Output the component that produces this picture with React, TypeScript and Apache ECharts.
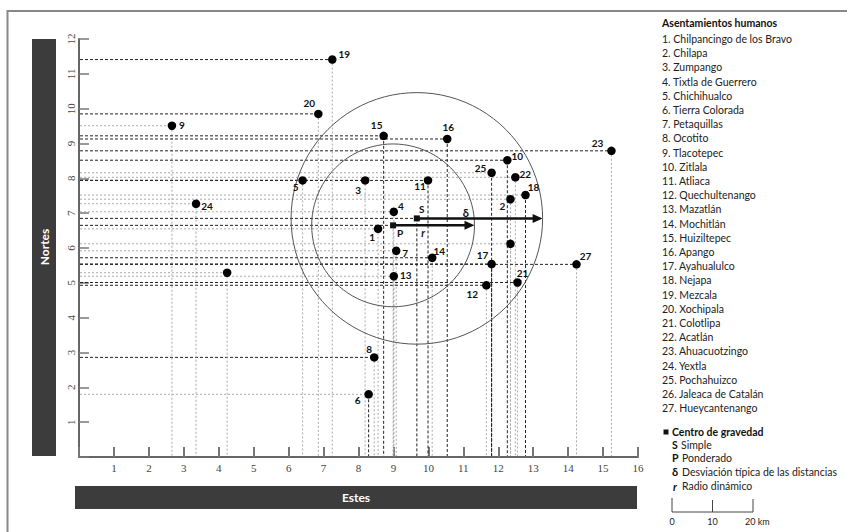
import React, { useEffect, useRef } from "react";
import * as echarts from "echarts";

const settlementNames = [
  "Chilpancingo de los Bravo", "Chilapa", "Zumpango", "Tixtla de Guerrero", "Chichihualco",
  "Tierra Colorada", "Petaquillas", "Ocotito", "Tlacotepec", "Zitlala", "Atliaca",
  "Quechultenango", "Mazatlán", "Mochitlán", "Huiziltepec", "Apango", "Ayahualulco",
  "Nejapa", "Mezcala", "Xochipala", "Colotlipa", "Acatlán", "Ahuacuotzingo", "Yextla",
  "Pochahuizco", "Jaleaca de Catalán", "Hueycantenango",
];

// point ids drawn next to each dot ("" = unlabeled dot)
const pointLabels = [
  "1", "2", "3", "4", "5", "6", "7", "8", "9", "10", "11", "12", "13", "14",
  "15", "16", "17", "18", "19", "20", "21", "22", "23", "24", "25", "", "27", "",
];
const eastings = [
  8.56, 12.35, 8.19, 9.01, 6.40, 8.29, 9.08, 8.45, 2.66, 12.26, 9.99, 11.66, 9.01, 10.11,
  8.72, 10.54, 11.81, 12.78, 7.25, 6.85, 12.55, 12.49, 15.24, 3.35, 11.81, 12.35, 14.24, 4.24,
];
const northings = [
  6.55, 7.40, 7.94, 7.04, 7.94, 1.80, 5.92, 2.86, 9.51, 8.52, 7.94, 4.93, 5.19, 5.72,
  9.22, 9.13, 5.54, 7.52, 11.41, 9.85, 5.01, 8.03, 8.79, 7.27, 8.16, 6.12, 5.53, 5.29,
];

const centroidSimple = [9.67, 6.85];
const centroidWeighted = [8.99, 6.65];
const stdDevDistance = 3.6;
const dynamicRadius = 2.33;

const xTickLabels = [1, 2, 3, 4, 5, 6, 7, 8, 9, 10, 11, 12, 13, 14, 15, 16];
const yTickLabels = [1, 2, 3, 4, 5, 6, 7, 8, 9, 10, 11, 12];

// presentation: guide line darkness (horizontal, vertical) per point
const guideHDark = [
  false, false, true, false, true, false, false, true, false, true, true, true, false, true,
  true, true, true, false, true, true, true, false, true, false, false, false, true, false,
];
const guideVDark = [
  false, false, false, false, false, true, false, false, false, true, true, false, false, false,
  true, true, true, true, false, false, false, false, false, false, true, false, false, false,
];
// presentation: label offsets in pixels
const labelOffsets = [
  [-6, 8], [-8, 7], [-7, 10], [7, -6], [-7, 7], [-11, 6], [9, 2], [-5, -8], [10, -1], [10, -4],
  [-8, 6], [-14, 9], [12, -1], [7, -7], [-7, -11], [1, -12], [-9, -9], [8, -8], [12, -6], [-9, -11],
  [5, -9], [10, -3], [-14, -8], [11, 2], [-11, -5], [0, 0], [9, -8], [0, 0],
];

const FONT = "Lato, 'Open Sans', sans-serif";
const SERIF = "'Liberation Serif', 'DejaVu Serif', serif";

export default function App() {
  const ref = useRef<HTMLDivElement>(null);
  useEffect(() => {
    if (!ref.current) return;
    const chart = echarts.init(ref.current, undefined, { renderer: "svg" });

    const points = eastings.map((x, i) => ({
      value: [x, northings[i]],
      label: {
        show: pointLabels[i] !== "",
        formatter: pointLabels[i],
        position: "inside",
        offset: labelOffsets[i],
        color: "#111",
        textBorderWidth: 0,
      },
    }));

    const guides = eastings.map((x, i) => [x, northings[i], guideHDark[i] ? 1 : 0, guideVDark[i] ? 1 : 0]);
    guides.push([centroidSimple[0], centroidSimple[1], 1, 1]);
    guides.push([centroidWeighted[0], centroidWeighted[1], 1, 0]);

    const darkStyle = { stroke: "#222", lineWidth: 1, lineDash: [3, 2] };
    const lightStyle = { stroke: "#aaa", lineWidth: 1, lineDash: [2, 2] };

    const legendGraphics: any[] = [
      { type: "polyline", shape: { points: [[7.5, 532], [7.5, 11], [847, 11]] }, style: { stroke: "#888", lineWidth: 2, fill: "none" } },
      { type: "rect", shape: { x: 32, y: 39, width: 24, height: 417 }, style: { fill: "#3c3c3c" } },
      { type: "text", x: 44, y: 247, rotation: Math.PI / 2, style: { text: "Nortes", fill: "#fff", font: `bold 12px ${FONT}`, align: "center", verticalAlign: "middle" } },
      { type: "rect", shape: { x: 75, y: 486, width: 562, height: 23 }, style: { fill: "#3c3c3c" } },
      { type: "text", x: 356, y: 497.5, style: { text: "Estes", fill: "#fff", font: `bold 12px ${FONT}`, align: "center", verticalAlign: "middle" } },
      { type: "text", x: 662, y: 23, style: { text: "Asentamientos humanos", fill: "#111", font: `bold 10.5px ${FONT}`, verticalAlign: "middle" } },
    ];
    settlementNames.forEach((n, i) => {
      legendGraphics.push({ type: "text", x: 662, y: 39 + i * 14.2, style: { text: `${i + 1}. ${n}`, fill: "#222", font: `10.5px ${FONT}`, verticalAlign: "middle" } });
    });
    legendGraphics.push(
      { type: "rect", shape: { x: 663.5, y: 429.5, width: 5, height: 5 }, style: { fill: "#111" } },
      { type: "text", x: 672, y: 431.7, style: { text: "Centro de gravedad", fill: "#111", font: `bold 10.5px ${FONT}`, verticalAlign: "middle" } },
      { type: "text", x: 672, y: 444.5, style: { text: "S", fill: "#111", font: `bold 10.5px ${FONT}`, verticalAlign: "middle" } },
      { type: "text", x: 681, y: 444.5, style: { text: "Simple", fill: "#222", font: `10.5px ${FONT}`, verticalAlign: "middle" } },
      { type: "text", x: 672, y: 458, style: { text: "P", fill: "#111", font: `bold 10.5px ${FONT}`, verticalAlign: "middle" } },
      { type: "text", x: 682, y: 458, style: { text: "Ponderado", fill: "#222", font: `10.5px ${FONT}`, verticalAlign: "middle" } },
      { type: "text", x: 672, y: 471.5, style: { text: "δ", fill: "#111", font: `bold 11px ${FONT}`, verticalAlign: "middle" } },
      { type: "text", x: 682, y: 471.5, style: { text: "Desviación típica de las distancias", fill: "#222", font: `10.5px ${FONT}`, verticalAlign: "middle" } },
      { type: "text", x: 673, y: 486, style: { text: "r", fill: "#111", font: `italic bold 11px ${FONT}`, verticalAlign: "middle" } },
      { type: "text", x: 682, y: 486, style: { text: "Radio dinámico", fill: "#222", font: `10.5px ${FONT}`, verticalAlign: "middle" } },
      { type: "polyline", shape: { points: [[672, 498], [672, 512], [753, 512], [753, 499]] }, style: { stroke: "#444", lineWidth: 1, fill: "none" } },
      { type: "line", shape: { x1: 712.5, y1: 500, x2: 712.5, y2: 512 }, style: { stroke: "#444", lineWidth: 1 } },
      { type: "text", x: 672, y: 521, style: { text: "0", fill: "#222", font: `9px ${FONT}`, align: "center", verticalAlign: "middle" } },
      { type: "text", x: 712.5, y: 521, style: { text: "10", fill: "#222", font: `9px ${FONT}`, align: "center", verticalAlign: "middle" } },
      { type: "text", x: 745, y: 521, style: { text: "20 km", fill: "#222", font: `9px ${FONT}`, verticalAlign: "middle" } },
    );

    chart.setOption({
      animation: false,
      grid: { left: 79, top: 39, width: 559, height: 418, containLabel: false },
      xAxis: {
        type: "value", min: 0, max: 16, interval: 1,
        axisLine: { show: true, onZero: false, lineStyle: { color: "#666", width: 2 } },
        axisTick: { show: true, inside: true, length: 10, lineStyle: { color: "#777", width: 2 } },
        axisLabel: {
          formatter: (v: number) => (xTickLabels.includes(v) ? String(v) : ""),
          fontFamily: SERIF, fontSize: 11, color: "#444", margin: 5,
        },
        splitLine: { show: false },
      },
      yAxis: {
        type: "value", min: 0, max: 12, interval: 1,
        axisLine: { show: true, onZero: false, lineStyle: { color: "#666", width: 2 } },
        axisTick: { show: true, inside: true, length: 10, lineStyle: { color: "#777", width: 1.5 } },
        axisLabel: {
          formatter: (v: number) => (yTickLabels.includes(v) ? String(v) : ""),
          fontFamily: SERIF, fontSize: 11, color: "#444", margin: 3, rotate: 90,
        },
        splitLine: { show: false },
      },
      graphic: legendGraphics,
      series: [
        {
          type: "custom",
          z: 1,
          data: guides,
          renderItem: (params: any, api: any) => {
            const x = api.value(0), y = api.value(1);
            const p = api.coord([x, y]);
            const px = api.coord([x, 0]);
            const py = api.coord([0, y]);
            return {
              type: "group",
              children: [
                { type: "line", shape: { x1: py[0] + 1, y1: p[1], x2: p[0], y2: p[1] }, style: api.value(2) ? darkStyle : lightStyle },
                { type: "line", shape: { x1: p[0], y1: p[1], x2: px[0], y2: px[1] - 1 }, style: api.value(3) ? darkStyle : lightStyle },
              ],
            };
          },
        },
        {
          type: "custom",
          z: 2,
          data: [
            [centroidSimple[0], centroidSimple[1], stdDevDistance],
            [centroidWeighted[0], centroidWeighted[1], dynamicRadius],
          ],
          renderItem: (params: any, api: any) => {
            const c = api.coord([api.value(0), api.value(1)]);
            const rr = api.size([api.value(2), 0])[0];
            return { type: "circle", shape: { cx: c[0], cy: c[1], r: rr }, style: { fill: "none", stroke: "#555", lineWidth: 1 } };
          },
        },
        {
          type: "custom",
          z: 4,
          data: [
            [centroidSimple[0], centroidSimple[1], stdDevDistance, 0],
            [centroidWeighted[0], centroidWeighted[1], dynamicRadius, 1],
          ],
          renderItem: (params: any, api: any) => {
            const a = api.coord([api.value(0), api.value(1)]);
            const b = api.coord([api.value(0) + api.value(2), api.value(1)]);
            const isR = api.value(3) === 1;
            const children: any[] = [
              { type: "line", shape: { x1: a[0], y1: a[1], x2: b[0] - 8, y2: b[1] }, style: { stroke: "#111", lineWidth: 2.5 } },
              { type: "polygon", shape: { points: [[b[0], b[1]], [b[0] - 10, b[1] - 4.5], [b[0] - 10, b[1] + 4.5]] }, style: { fill: "#111" } },
              { type: "rect", shape: { x: a[0] - 3, y: a[1] - 3, width: 6, height: 6 }, style: { fill: "#111" } },
            ];
            if (isR) {
              children.push(
                { type: "text", x: a[0] + 7, y: a[1] + 8, style: { text: "P", fill: "#111", font: `bold 10px ${FONT}`, align: "center", verticalAlign: "middle" } },
                { type: "text", x: a[0] + 30, y: a[1] + 8, style: { text: "r", fill: "#111", font: `italic bold 10.5px ${FONT}`, align: "center", verticalAlign: "middle" } },
              );
            } else {
              children.push(
                { type: "text", x: a[0] + 5, y: a[1] - 9, style: { text: "S", fill: "#111", font: `bold 10px ${FONT}`, align: "center", verticalAlign: "middle" } },
                { type: "text", x: a[0] + 49, y: a[1] - 6, style: { text: "δ", fill: "#111", font: `bold 11px ${FONT}`, align: "center", verticalAlign: "middle" } },
              );
            }
            return { type: "group", children };
          },
        },
        {
          type: "scatter",
          z: 5,
          symbol: "circle",
          symbolSize: 8.5,
          itemStyle: { color: "#000", opacity: 1 },
          label: { fontFamily: FONT, fontWeight: "bold", fontSize: 10, color: "#111", textBorderWidth: 0 },
          data: points,
        },
      ],
    });
    return () => chart.dispose();
  }, []);
  return <div ref={ref} style={{ position: "absolute", left: 0, top: 0, width: 847, height: 532, background: "#fff" }} />;
}
